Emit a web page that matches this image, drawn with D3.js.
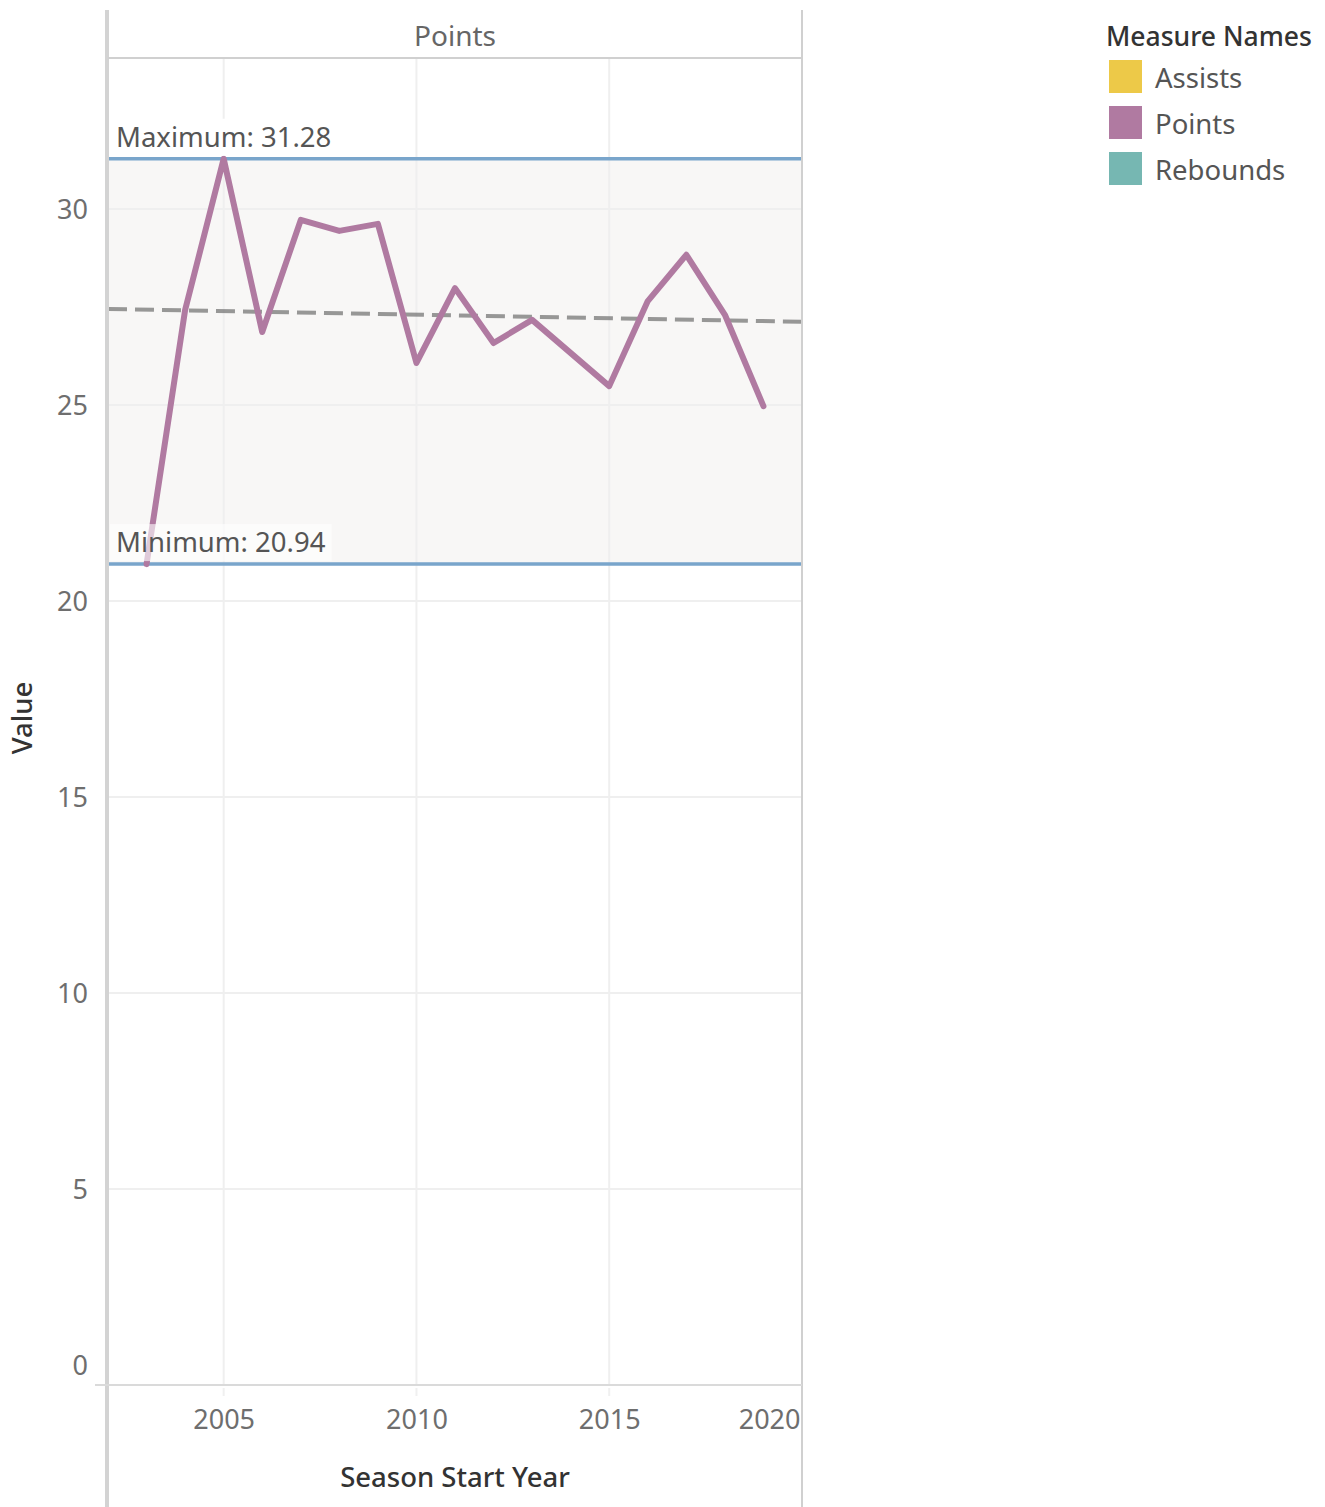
<!DOCTYPE html>
<html><head><meta charset="utf-8">
<script src="https://cdn.jsdelivr.net/npm/d3@7"></script>
<style>body{margin:0;background:#fff}svg text{font-family:"Noto Sans","Open Sans",sans-serif}</style>
</head><body><svg id="c" width="1325" height="1507"></svg>
<script>
const years = [2003,2004,2005,2006,2007,2008,2009,2010,2011,2012,2013,2015,2016,2017,2018,2019];
const points = [20.94,27.42,31.28,26.86,29.72,29.44,29.62,26.07,27.98,26.58,27.17,25.48,27.65,28.83,27.30,24.97];
const xTicks = [2005,2010,2015,2020];
const yTicks = [0,5,10,15,20,25,30];
const trendYears = [2002,2020];
const trendValues = [27.45,27.12];
const refNames = ["Maximum","Minimum"];
const refValues = [31.28,20.94];
const legendNames = ["Assists","Points","Rebounds"];
const legendColors = ["#edc948","#b07aa1","#76b7b2"];

const L=108,R=802,T=58,B=1385;
const svg=d3.select("#c");
const x=d3.scaleLinear().domain([2002,2020]).range([L,R]);
const y=d3.scaleLinear().domain([0,33.85]).range([B,T]);

// reference band
svg.append("rect").attr("x",L).attr("width",R-L)
  .attr("y",y(d3.max(refValues))).attr("height",y(d3.min(refValues))-y(d3.max(refValues)))
  .attr("fill","#f8f7f6");

// grid
svg.append("g").selectAll("line").data(yTicks.filter(d=>d>0)).join("line")
  .attr("x1",L).attr("x2",R).attr("y1",d=>y(d)).attr("y2",d=>y(d))
  .attr("stroke","#efefef").attr("stroke-width",2);
svg.append("g").selectAll("line").data(xTicks.filter(d=>x(d)<R-2)).join("line")
  .attr("x1",d=>x(d)).attr("x2",d=>x(d)).attr("y1",T).attr("y2",B)
  .attr("stroke","#efefef").attr("stroke-width",2);
svg.append("g").selectAll("line").data(xTicks.filter(d=>x(d)<R-2)).join("line")
  .attr("x1",d=>x(d)).attr("x2",d=>x(d)).attr("y1",B+3).attr("y2",B+11)
  .attr("stroke","#f0f0f0").attr("stroke-width",2);

// ref lines
svg.append("g").selectAll("line").data(refValues).join("line")
  .attr("x1",L).attr("x2",R).attr("y1",d=>y(d)).attr("y2",d=>y(d))
  .attr("stroke","#79a5cb").attr("stroke-width",3.5);

// trend line
svg.append("line").attr("x1",x(trendYears[0])).attr("x2",x(trendYears[1]))
  .attr("y1",y(trendValues[0])).attr("y2",y(trendValues[1]))
  .attr("stroke","rgba(110,110,110,0.7)").attr("stroke-width",4).attr("stroke-dasharray","19,8");

// data line
svg.append("path").datum(years.map((yr,i)=>[yr,points[i]]))
  .attr("d",d3.line().x(d=>x(d[0])).y(d=>y(d[1])))
  .attr("fill","none").attr("stroke","#b07aa1").attr("stroke-width",6)
  .attr("stroke-linejoin","round").attr("stroke-linecap","round");

// ref labels
refNames.forEach((n,i)=>{
  const v=refValues[i];
  const yy=y(v);
  const g=svg.append("g");
  const t=g.append("text").attr("x",116).attr("y",yy-12).attr("font-size",27.5).attr("fill","#555")
    .text(n+": "+v.toFixed(2));
  const bb=t.node().getBBox();
  g.insert("rect","text").attr("x",110).attr("y",yy-40).attr("width",bb.width+12).attr("height",37)
    .attr("fill",i===0?"#fff":"rgba(255,255,255,0.6)");
});

// borders
svg.append("line").attr("x1",107).attr("x2",107).attr("y1",10).attr("y2",1507).attr("stroke","#d3d3d3").attr("stroke-width",4);
svg.append("line").attr("x1",R).attr("x2",R).attr("y1",10).attr("y2",1507).attr("stroke","#d0d0d0").attr("stroke-width",2);
svg.append("line").attr("x1",L).attr("x2",R).attr("y1",T).attr("y2",T).attr("stroke","#d0d0d0").attr("stroke-width",2);
svg.append("line").attr("x1",95).attr("x2",R).attr("y1",B).attr("y2",B).attr("stroke","#dadada").attr("stroke-width",2);

// axes
const ya=svg.append("g").attr("transform",`translate(${L-20},0)`)
  .call(d3.axisLeft(y).tickValues(yTicks).tickSize(0).tickPadding(0));
ya.select(".domain").remove();
ya.selectAll("text").attr("font-size",27).attr("fill","#6e6e6e")
  .attr("dy",d=>d===0?"-0.4em":"0.35em");
const xa=svg.append("g").attr("transform",`translate(0,${B+25})`)
  .call(d3.axisBottom(x).tickValues(xTicks).tickFormat(d3.format("d")).tickSize(0).tickPadding(0));
xa.select(".domain").remove();
xa.selectAll("text").attr("font-size",27).attr("fill","#6e6e6e").attr("dy","0.71em")
  .attr("text-anchor",d=>x(d)>=R-2?"end":"middle").attr("dx",d=>x(d)>=R-2?"-2":"0");

// titles
svg.append("text").attr("x",(L+R)/2).attr("y",46).attr("text-anchor","middle").attr("font-size",28).attr("fill","#666").text("Points");
svg.append("text").attr("transform","translate(32,718) rotate(-90)").attr("text-anchor","middle")
  .attr("font-size",27.5).attr("font-weight",500).attr("fill","#333").text("Value");
svg.append("text").attr("x",455).attr("y",1487).attr("text-anchor","middle").attr("font-size",27.5)
  .attr("font-weight",500).attr("fill","#333").text("Season Start Year");

// legend
svg.append("text").attr("x",1106).attr("y",46).attr("font-size",26.5).attr("font-weight",500).attr("fill","#333").text("Measure Names");
const lg=svg.append("g").selectAll("g").data(legendNames).join("g")
  .attr("transform",(d,i)=>`translate(1109,${60+i*46})`);
lg.append("rect").attr("width",33).attr("height",33).attr("fill",(d,i)=>legendColors[i]);
lg.append("text").attr("x",46).attr("y",28).attr("font-size",27.5).attr("fill","#555").text(d=>d);
</script></body></html>
